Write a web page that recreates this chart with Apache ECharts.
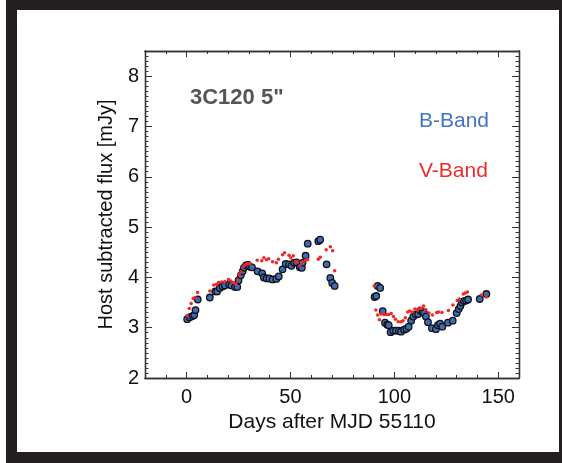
<!DOCTYPE html>
<html>
<head>
<meta charset="utf-8">
<script src="https://cdn.jsdelivr.net/npm/echarts@6/dist/echarts.min.js"></script>
<style>
html,body{margin:0;padding:0;background:#fff;width:562px;height:463px;overflow:hidden;}
#frame{position:absolute;left:6px;top:0;width:556px;height:463px;background:#231f20;}
#inner{position:absolute;left:17px;top:10px;width:542px;height:442px;background:#fff;}
#chart{position:absolute;left:0;top:0;width:562px;height:463px;}
</style>
</head>
<body>
<div id="frame"></div>
<div id="inner"></div>
<div id="chart"></div>
<script>
// ---- data ----
const bDays = [0.3,1.6,2.9,3.7,4.3,5.4,11.2,13.8,14.7,16.0,17.3,18.4,20.5,21.6,23.3,24.4,25.0,26.1,27.0,27.6,28.6,29.6,30.5,31.5,34.2,36.4,37.2,38.5,39.8,41.4,43.2,44.4,46.2,47.7,49.3,50.5,51.7,52.9,54.5,55.5,55.8,57.3,58.3,63.4,64.3,67.4,69.2,70.1,71.3,
  90.5,91.3,92.0,93.2,94.4,95.5,96.6,97.3,98.2,99.5,100.8,102.2,103.2,104.7,105.8,106.9,108.1,109.1,110.4,111.5,112.6,113.6,114.3,115.2,116.2,118.1,120.0,121.0,122.0,123.1,125.8,128.1,130.0,131.0,131.8,132.5,133.5,134.5,135.5,141.1,144.3];
const bFlux = [3.17,3.21,3.23,3.25,3.35,3.56,3.60,3.72,3.72,3.79,3.82,3.84,3.86,3.84,3.81,3.81,3.94,4.04,4.12,4.19,4.24,4.25,4.21,4.20,4.12,4.08,4.00,3.98,3.98,3.96,3.97,4.02,4.16,4.27,4.26,4.23,4.29,4.30,4.20,4.19,4.29,4.43,4.67,4.72,4.75,4.26,3.99,3.89,3.83,
  3.61,3.63,3.83,3.79,3.33,3.10,3.06,3.05,2.91,2.94,2.94,2.94,2.92,2.96,2.98,3.02,3.14,3.22,3.26,3.27,3.34,3.31,3.29,3.22,3.11,2.99,2.97,3.05,3.08,3.02,3.10,3.14,3.29,3.37,3.43,3.50,3.53,3.54,3.56,3.57,3.67];
const vDays = [0.3,1.3,2.2,3.2,4.1,5.3,11.2,13.1,14.4,15.4,16.9,18.5,20.2,21.3,22.5,23.6,24.4,25.3,26.1,27.3,28.2,29.2,30.5,34.0,36.2,37.2,38.5,39.5,41.4,43.2,44.2,46.2,47.2,49.3,50.2,51.4,52.3,53.5,54.5,55.8,57.3,58.3,63.4,64.3,67.2,69.2,70.3,71.3,
  90.3,91.1,92.0,92.8,93.6,95.0,96.2,97.3,98.5,99.6,100.6,101.9,103.2,104.2,105.3,106.4,107.4,108.6,109.9,110.9,112.0,113.1,114.1,115.1,116.7,118.3,120.4,121.3,122.9,126.0,128.2,130.3,131.3,133.2,134.2,135.2,141.8,144.3];
const vFlux = [3.24,3.38,3.48,3.58,3.60,3.70,3.73,3.85,3.86,3.90,3.91,3.92,3.96,3.93,3.90,3.87,3.95,4.06,4.11,4.21,4.25,4.27,4.27,4.34,4.33,4.39,4.35,4.37,4.31,4.29,4.36,4.45,4.49,4.44,4.39,4.43,4.31,4.31,4.23,4.31,4.34,4.35,4.36,4.40,4.55,4.61,4.53,4.13,
  3.83,3.35,3.25,3.16,3.27,3.26,3.26,3.26,3.28,3.22,3.17,3.12,3.12,3.14,3.20,3.31,3.33,3.31,3.37,3.35,3.39,3.38,3.43,3.36,3.29,3.25,3.30,3.31,3.30,3.34,3.45,3.54,3.57,3.67,3.69,3.71,3.65,3.61];
const xTickLabels = [0, 50, 100, 150];
const yTickLabels = [2, 3, 4, 5, 6, 7, 8];
const seriesNames = ['B-Band', 'V-Band'];
const plotLabel = '3C120 5"';
const xTitle = 'Days after MJD 55110';
const yTitle = 'Host subtracted flux [mJy]';

// ---- chart ----
const FONT = '"Liberation Sans", Arial, Helvetica, sans-serif';
const AX = '#333';
const X_MIN = -20, X_MAX = 160, Y_MIN = 2, Y_MAX = 8.5;
const gridBox = {left: 145, top: 51, width: 374, height: 327};
const zip = (a, b) => a.map((v, i) => [v, b[i]]);

function xAx(gi, pos, major, opts) {
  return Object.assign({
    type: 'value', gridIndex: gi, position: pos, min: X_MIN, max: X_MAX,
    axisLine: {show: true, onZero: false, lineStyle: {color: AX, width: 1.3}},
    axisTick: major ? {show: true, inside: true, length: 6, customValues: xTickLabels, lineStyle: {color: AX, width: 1}}
                    : {show: true, inside: true, length: 3, lineStyle: {color: AX, width: 1}},
    axisLabel: {show: false},
    splitLine: {show: false}
  }, major ? {} : {interval: 10}, opts || {});
}
function yAx(gi, pos, major, opts) {
  return Object.assign({
    type: 'value', gridIndex: gi, position: pos, min: Y_MIN, max: Y_MAX,
    axisLine: {show: true, onZero: false, lineStyle: {color: AX, width: 1.3}},
    axisTick: major ? {show: true, inside: true, length: 7, customValues: yTickLabels, lineStyle: {color: AX, width: 1}}
                    : {show: true, inside: true, length: 3.5, lineStyle: {color: AX, width: 1}},
    axisLabel: {show: false},
    splitLine: {show: false}
  }, major ? {} : {interval: 0.1}, opts || {});
}

const chart = echarts.init(document.getElementById('chart'), null, {renderer: 'canvas'});
chart.setOption({
  backgroundColor: 'transparent',
  animation: false,
  textStyle: {fontFamily: FONT},
  grid: [0, 1, 2, 3].map(() => Object.assign({containLabel: false}, gridBox)),
  title: {
    text: plotLabel, left: 185, top: 82,
    textStyle: {fontFamily: FONT, fontSize: 22, fontWeight: 'bold', color: '#555'}
  },
  legend: {
    orient: 'vertical', left: 408, top: 106, itemWidth: 0, itemHeight: 0, itemGap: 29,
    selectedMode: false, align: 'left',
    textStyle: {fontFamily: FONT, fontSize: 21},
    data: [
      {name: seriesNames[0], textStyle: {color: '#4472c4'}},
      {name: seriesNames[1], textStyle: {color: '#ee2a2a'}}
    ]
  },
  xAxis: [
    xAx(0, 'bottom', true, {
      axisLabel: {show: true, customValues: xTickLabels, margin: 9, fontSize: 20, fontFamily: FONT, color: '#111'},
      name: xTitle, nameLocation: 'middle', nameGap: 29,
      nameTextStyle: {fontSize: 21, fontFamily: FONT, color: '#111'}
    }),
    xAx(1, 'bottom', false),
    xAx(2, 'top', true),
    xAx(3, 'top', false)
  ],
  yAxis: [
    yAx(0, 'left', true, {
      axisLabel: {show: true, customValues: yTickLabels, margin: 6, fontSize: 20, fontFamily: FONT, color: '#111'},
      name: yTitle, nameLocation: 'middle', nameGap: 29,
      nameTextStyle: {fontSize: 20, fontFamily: FONT, color: '#111'}
    }),
    yAx(1, 'left', false),
    yAx(2, 'right', true),
    yAx(3, 'right', false)
  ],
  series: [
    {
      name: seriesNames[0], type: 'scatter', xAxisIndex: 0, yAxisIndex: 0,
      data: zip(bDays, bFlux), symbol: 'circle', symbolSize: 6.5,
      itemStyle: {color: '#3d6bb5', borderColor: '#111', borderWidth: 1.3, opacity: 1}
    },
    {
      name: seriesNames[1], type: 'scatter', xAxisIndex: 0, yAxisIndex: 0,
      data: zip(vDays, vFlux), symbol: 'circle', symbolSize: 3.5,
      itemStyle: {color: '#f02828', opacity: 1}
    }
  ]
});
</script>
</body>
</html>
